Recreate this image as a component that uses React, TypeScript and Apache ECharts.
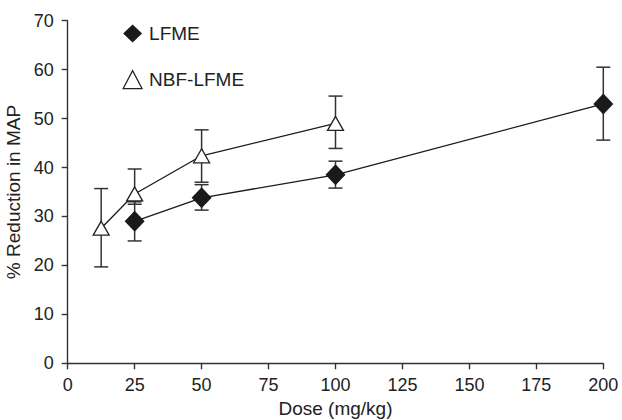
import React, { useEffect, useRef } from "react";
import * as echarts from "echarts";

const xTicks = [0, 25, 50, 75, 100, 125, 150, 175, 200];
const yTicks = [0, 10, 20, 30, 40, 50, 60, 70];

const lfmeDose = [25, 50, 100, 200];
const lfmeMean = [29.0, 33.8, 38.5, 53.0];
const lfmeLow = [25.0, 31.3, 35.8, 45.6];
const lfmeHigh = [33.0, 36.5, 41.3, 60.5];

const nbfDose = [12.5, 25, 50, 100];
const nbfMean = [27.6, 34.6, 42.4, 49.0];
const nbfLow = [19.7, 32.5, 37.0, 43.9];
const nbfHigh = [35.7, 39.7, 47.7, 54.6];

const FONT = "'Liberation Sans', Arial, Helvetica, sans-serif";

function errorSeries(name: string, dose: number[], low: number[], high: number[]) {
  return {
    name: name + "-err",
    type: "custom",
    z: 1,
    silent: true,
    data: dose.map((d, i) => [d, low[i], high[i]]),
    renderItem: (params: any, api: any) => {
      const x = api.value(0);
      const lo = api.coord([x, api.value(1)]);
      const hi = api.coord([x, api.value(2)]);
      const hw = 7;
      const style = { stroke: "#333", lineWidth: 1.5 };
      return {
        type: "group",
        children: [
          { type: "line", shape: { x1: lo[0], y1: lo[1], x2: hi[0], y2: hi[1] }, style },
          { type: "line", shape: { x1: lo[0] - hw, y1: lo[1], x2: lo[0] + hw, y2: lo[1] }, style },
          { type: "line", shape: { x1: hi[0] - hw, y1: hi[1], x2: hi[0] + hw, y2: hi[1] }, style },
        ],
      };
    },
  };
}

export default function App() {
  const ref = useRef<HTMLDivElement>(null);
  useEffect(() => {
    const chart = echarts.init(ref.current!, null, { renderer: "svg" });
    chart.setOption({
      animation: false,
      backgroundColor: "#fff",
      grid: { left: 67.7, right: 18.7, top: 20.7, bottom: 56.7, containLabel: false, outerBoundsMode: "none" },
      legend: {
        orient: "vertical",
        left: 122.5,
        top: 24,
        padding: 0,
        itemWidth: 19,
        itemHeight: 18,
        itemGap: 27,
        textStyle: { fontFamily: FONT, fontSize: 19, lineHeight: 18, color: "#222", padding: [0, 0, 0, 2] },
        data: [
          { name: "LFME", icon: "diamond", itemStyle: { color: "#1a1a1a", borderWidth: 0 } },
          { name: "NBF-LFME", icon: "triangle", itemStyle: { color: "#fff", borderColor: "#222", borderWidth: 1.2 } },
        ],
      },
      xAxis: {
        type: "value",
        min: 0,
        max: 200,
        interval: 25,
        name: "Dose (mg/kg)",
        nameLocation: "middle",
        nameGap: 32,
        nameTextStyle: { fontFamily: FONT, fontSize: 19, color: "#222" },
        axisLine: { lineStyle: { color: "#333", width: 1.4 } },
        axisTick: { inside: false, length: 6, lineStyle: { color: "#333", width: 1.4 } },
        axisLabel: {
          fontFamily: FONT,
          fontSize: 18,
          color: "#222",
          margin: 13,
          formatter: (v: number) => (xTicks.includes(v) ? String(v) : ""),
        },
        splitLine: { show: false },
      },
      yAxis: {
        type: "value",
        min: 0,
        max: 70,
        interval: 10,
        name: "% Reduction in MAP",
        nameLocation: "middle",
        nameGap: 37,
        nameTextStyle: { fontFamily: FONT, fontSize: 19, color: "#222" },
        axisLine: { show: true, lineStyle: { color: "#333", width: 1.4 } },
        axisTick: { show: true, inside: false, length: 6, lineStyle: { color: "#333", width: 1.4 } },
        axisLabel: {
          fontFamily: FONT,
          fontSize: 18,
          color: "#222",
          margin: 14,
          formatter: (v: number) => (yTicks.includes(v) ? String(v) : ""),
        },
        splitLine: { show: false },
      },
      series: [
        errorSeries("LFME", lfmeDose, lfmeLow, lfmeHigh),
        errorSeries("NBF-LFME", nbfDose, nbfLow, nbfHigh),
        {
          name: "LFME",
          type: "line",
          z: 3,
          data: lfmeDose.map((d, i) => [d, lfmeMean[i]]),
          symbol: "diamond",
          symbolSize: [20, 21],
          lineStyle: { color: "#1a1a1a", width: 1.3 },
          itemStyle: { color: "#1a1a1a", borderWidth: 0 },
        },
        {
          name: "NBF-LFME",
          type: "line",
          z: 4,
          data: nbfDose.map((d, i) => [d, nbfMean[i]]),
          symbol: "triangle",
          symbolSize: [16, 14],
          showAllSymbol: true,
          lineStyle: { color: "#1a1a1a", width: 1.3 },
          itemStyle: { color: "#fff", borderColor: "#222", borderWidth: 1.3 },
        },
      ],
    });
    return () => chart.dispose();
  }, []);
  return <div ref={ref} style={{ width: 622, height: 420, position: "absolute", left: 0, top: 0 }} />;
}
